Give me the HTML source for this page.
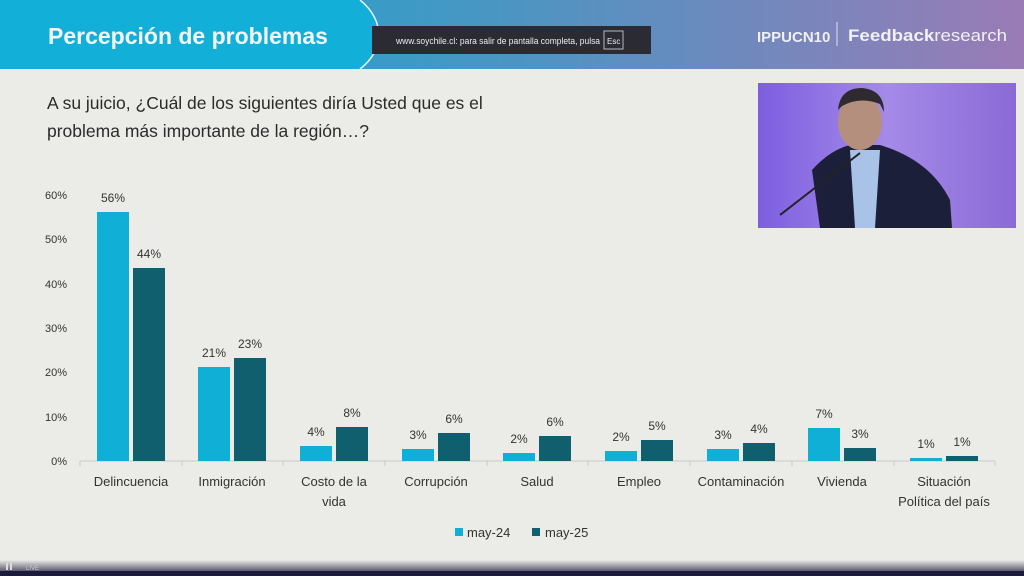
<!DOCTYPE html>
<html><head><meta charset="utf-8"><style>
body{margin:0;width:1024px;height:576px;overflow:hidden;background:#ebebe8;font-family:"Liberation Sans",sans-serif;}
</style></head><body>
<svg width="1024" height="576" xmlns="http://www.w3.org/2000/svg" style="position:absolute;left:0;top:0">
<defs>
<linearGradient id="hg" x1="0" x2="1"><stop offset="0" stop-color="#12aed6"/><stop offset="0.4" stop-color="#3d9ac5"/><stop offset="1" stop-color="#9a7bb6"/></linearGradient>
<linearGradient id="bot" x1="0" y1="0" x2="0" y2="1"><stop offset="0" stop-color="#ebebe8"/><stop offset="1" stop-color="#1c1a3a"/></linearGradient>
<linearGradient id="ph" x1="0" x2="1"><stop offset="0" stop-color="#7d5ee0"/><stop offset="0.5" stop-color="#a58ae8"/><stop offset="1" stop-color="#8a6ad6"/></linearGradient>
</defs>
<rect x="0" y="0" width="1024" height="69" fill="url(#hg)"/>
<path d="M0 0 H360 C385 20 385 50 360 69 H0 Z" fill="#12b0d8"/>
<path d="M360 0 C385 20 385 50 360 69" stroke="#e8f4f8" stroke-width="1.5" fill="none"/>
<text x="48" y="44" font-size="23" font-weight="bold" fill="#f2f6f8">Percepción de problemas</text>
<rect x="372" y="26" width="279" height="28" fill="#2a2b33"/>
<text x="396" y="44" font-size="9" fill="#eee" textLength="204" lengthAdjust="spacingAndGlyphs">www.soychile.cl: para salir de pantalla completa, pulsa</text>
<rect x="604" y="31" width="19" height="18" fill="none" stroke="#ddd" stroke-width="0.8"/>
<text x="607" y="44" font-size="8" fill="#eee">Esc</text>
<text x="757" y="42" font-size="15" font-weight="bold" fill="#f0f0f5">IPPUCN10</text>
<line x1="837" y1="22" x2="837" y2="46" stroke="#e0e0f0"/>
<text x="848" y="41" font-size="17" font-weight="bold" fill="#f0f0f5" textLength="159" lengthAdjust="spacingAndGlyphs">Feedback<tspan font-weight="normal">research</tspan></text>

<text font-size="17.5" fill="#2b2b2b"><tspan x="47" y="109">A su juicio, ¿Cuál de los siguientes diría Usted que es el</tspan><tspan x="47" y="137">problema más importante de la región…?</tspan></text>

<rect x="758" y="83" width="258" height="145" fill="url(#ph)"/>
<path d="M820 228 L812 170 Q830 150 850 145 L880 145 Q930 160 950 200 L952 228 Z" fill="#1c1f3a"/>
<path d="M850 150 L880 150 L875 228 L855 228 Z" fill="#a9c2e8"/>
<ellipse cx="860" cy="122" rx="22" ry="28" fill="#b58f7e"/>
<path d="M838 110 Q840 88 862 88 Q884 90 884 112 L880 104 Q860 96 842 106 Z" fill="#2d2a30"/>
<line x1="780" y1="215" x2="860" y2="153" stroke="#222" stroke-width="2"/>

<g font-size="11" fill="#333" text-anchor="end">
<text x="67" y="199">60%</text><text x="67" y="243">50%</text><text x="67" y="288">40%</text><text x="67" y="332">30%</text><text x="67" y="376">20%</text><text x="67" y="421">10%</text><text x="67" y="465">0%</text>
</g>
<line x1="80" y1="461" x2="995" y2="461" stroke="#c8c8c8"/>
<g stroke="#c8c8c8">
<line x1="80" y1="461" x2="80" y2="466"/><line x1="182" y1="461" x2="182" y2="466"/><line x1="283" y1="461" x2="283" y2="466"/><line x1="385" y1="461" x2="385" y2="466"/><line x1="487" y1="461" x2="487" y2="466"/><line x1="588" y1="461" x2="588" y2="466"/><line x1="690" y1="461" x2="690" y2="466"/><line x1="792" y1="461" x2="792" y2="466"/><line x1="894" y1="461" x2="894" y2="466"/><line x1="995" y1="461" x2="995" y2="466"/>
</g>
<g fill="#10afd6">
<rect x="97" y="212" width="32" height="249"/>
<rect x="198" y="367" width="32" height="94"/>
<rect x="300" y="446" width="32" height="15"/>
<rect x="402" y="449" width="32" height="12"/>
<rect x="503" y="453" width="32" height="8"/>
<rect x="605" y="451" width="32" height="10"/>
<rect x="707" y="449" width="32" height="12"/>
<rect x="808" y="428" width="32" height="33"/>
<rect x="910" y="458" width="32" height="3"/>
</g>
<g fill="#0f5f6e">
<rect x="133" y="268" width="32" height="193"/>
<rect x="234" y="358" width="32" height="103"/>
<rect x="336" y="427" width="32" height="34"/>
<rect x="438" y="433" width="32" height="28"/>
<rect x="539" y="436" width="32" height="25"/>
<rect x="641" y="440" width="32" height="21"/>
<rect x="743" y="443" width="32" height="18"/>
<rect x="844" y="448" width="32" height="13"/>
<rect x="946" y="456" width="32" height="5"/>
</g>
<g font-size="12" fill="#333" text-anchor="middle">
<text x="113" y="202">56%</text><text x="149" y="258">44%</text>
<text x="214" y="357">21%</text><text x="250" y="348">23%</text>
<text x="316" y="436">4%</text><text x="352" y="417">8%</text>
<text x="418" y="439">3%</text><text x="454" y="423">6%</text>
<text x="519" y="443">2%</text><text x="555" y="426">6%</text>
<text x="621" y="441">2%</text><text x="657" y="430">5%</text>
<text x="723" y="439">3%</text><text x="759" y="433">4%</text>
<text x="824" y="418">7%</text><text x="860" y="438">3%</text>
<text x="926" y="448">1%</text><text x="962" y="446">1%</text>
</g>
<g font-size="13" fill="#333" text-anchor="middle">
<text x="131" y="486">Delincuencia</text>
<text x="232" y="486">Inmigración</text>
<text x="334" y="486">Costo de la</text><text x="334" y="506">vida</text>
<text x="436" y="486">Corrupción</text>
<text x="537" y="486">Salud</text>
<text x="639" y="486">Empleo</text>
<text x="741" y="486">Contaminación</text>
<text x="842" y="486">Vivienda</text>
<text x="944" y="486">Situación</text><text x="944" y="506">Política del país</text>
</g>
<rect x="455" y="528" width="8" height="8" fill="#10afd6"/>
<text x="467" y="537" font-size="13" fill="#333">may-24</text>
<rect x="532" y="528" width="8" height="8" fill="#0f5f6e"/>
<text x="545" y="537" font-size="13" fill="#333">may-25</text>

<rect x="0" y="560" width="1024" height="16" fill="url(#bot)"/>
<rect x="0" y="571" width="1024" height="5" fill="#1c1a3a"/>
<rect x="6" y="563" width="2" height="7" fill="#ddd"/><rect x="10" y="563" width="2" height="7" fill="#ddd"/>
<text x="26" y="570" font-size="6" fill="#ccc">LIVE</text>
</svg>
</body></html>
